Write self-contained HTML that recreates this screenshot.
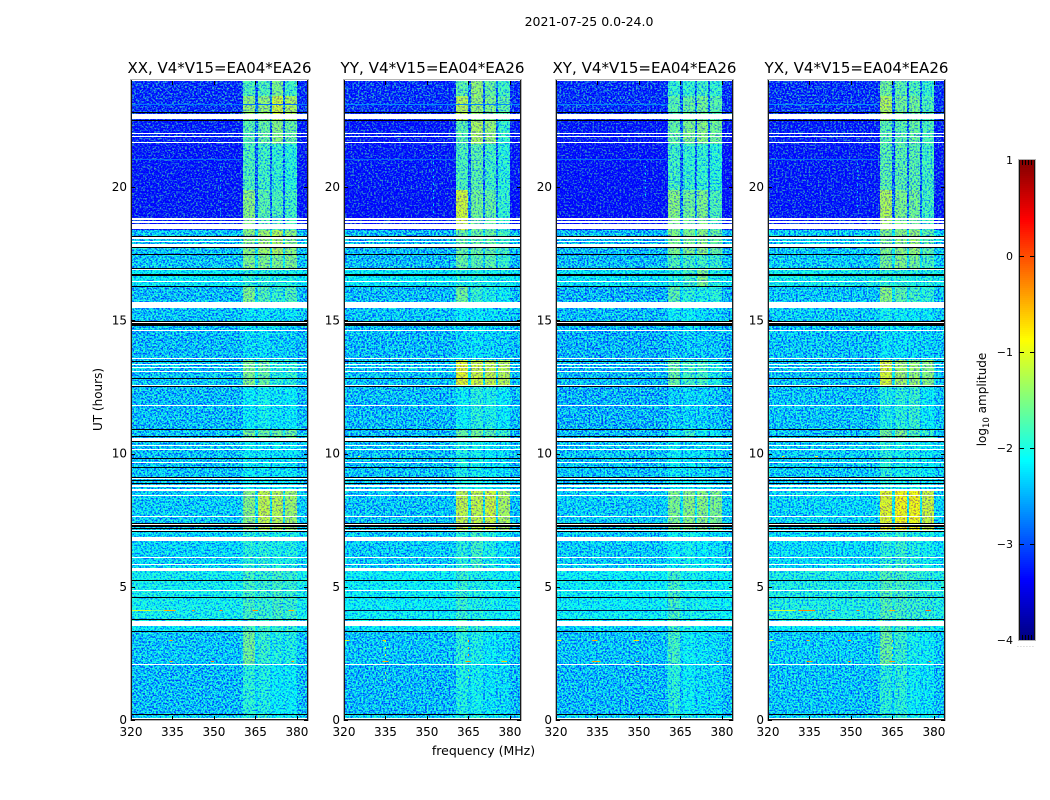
<!DOCTYPE html>
<html>
<head>
<meta charset="utf-8">
<title>2021-07-25 0.0-24.0</title>
<style>
html,body{margin:0;padding:0;background:#fff;width:1050px;height:800px;overflow:hidden}
svg{display:block}
text{font-family:"DejaVu Sans","Liberation Sans",sans-serif;fill:#000}
</style>
</head>
<body>
<svg id="chart" xmlns="http://www.w3.org/2000/svg" width="1050" height="800" viewBox="0 0 1050 800">
<defs>
<filter id="speckle0" filterUnits="userSpaceOnUse" x="0" y="0" width="1050" height="800" color-interpolation-filters="sRGB"><feTurbulence type="fractalNoise" baseFrequency="0.55 0.6" numOctaves="2" seed="7" result="noise"/><feColorMatrix in="noise" type="matrix" values="0.9 0 0 0 0.05  3 0 0 0 -1  -1 0 0 0 1  0 0 0 0 1" result="tint"/><feComposite in="SourceGraphic" in2="tint" operator="arithmetic" k1="0" k2="1" k3="1" k4="-0.5" result="mix"/><feComposite in="mix" in2="SourceGraphic" operator="in"/></filter>
<filter id="speckle1" filterUnits="userSpaceOnUse" x="0" y="0" width="1050" height="800" color-interpolation-filters="sRGB"><feTurbulence type="fractalNoise" baseFrequency="0.55 0.6" numOctaves="2" seed="19" result="noise"/><feColorMatrix in="noise" type="matrix" values="0.9 0 0 0 0.05  3 0 0 0 -1  -1 0 0 0 1  0 0 0 0 1" result="tint"/><feComposite in="SourceGraphic" in2="tint" operator="arithmetic" k1="0" k2="1" k3="1" k4="-0.5" result="mix"/><feComposite in="mix" in2="SourceGraphic" operator="in"/></filter>
<filter id="speckle2" filterUnits="userSpaceOnUse" x="0" y="0" width="1050" height="800" color-interpolation-filters="sRGB"><feTurbulence type="fractalNoise" baseFrequency="0.55 0.6" numOctaves="2" seed="31" result="noise"/><feColorMatrix in="noise" type="matrix" values="0.9 0 0 0 0.05  3 0 0 0 -1  -1 0 0 0 1  0 0 0 0 1" result="tint"/><feComposite in="SourceGraphic" in2="tint" operator="arithmetic" k1="0" k2="1" k3="1" k4="-0.5" result="mix"/><feComposite in="mix" in2="SourceGraphic" operator="in"/></filter>
<filter id="speckle3" filterUnits="userSpaceOnUse" x="0" y="0" width="1050" height="800" color-interpolation-filters="sRGB"><feTurbulence type="fractalNoise" baseFrequency="0.55 0.6" numOctaves="2" seed="43" result="noise"/><feColorMatrix in="noise" type="matrix" values="0.9 0 0 0 0.05  3 0 0 0 -1  -1 0 0 0 1  0 0 0 0 1" result="tint"/><feComposite in="SourceGraphic" in2="tint" operator="arithmetic" k1="0" k2="1" k3="1" k4="-0.5" result="mix"/><feComposite in="mix" in2="SourceGraphic" operator="in"/></filter>
</defs>
<text x="589" y="26" font-size="12.5" text-anchor="middle">2021-07-25 0.0-24.0</text>
<text x="483.5" y="755" font-size="12.5" text-anchor="middle">frequency (MHz)</text>
<text x="0" y="0" font-size="12" text-anchor="middle" transform="translate(102 399.5) rotate(-90)">UT (hours)</text>
<text x="0" y="0" font-size="12" text-anchor="middle" transform="translate(986 399.5) rotate(-90)">log<tspan font-size="8.5" dy="3">10</tspan><tspan dy="-3"> amplitude</tspan></text>
</svg>
<script>
// ---- chart data ----
const polarisations = ['XX', 'YY', 'XY', 'YX'];
const baselineLabel = ', V4*V15=EA04*EA26';
const xTicks = [320, 335, 350, 365, 380];
const yTicks = [0, 5, 10, 15, 20];
const colorbarTicks = [1, 0, -1, -2, -3, -4];
// time row edges (UT hours) from top to bottom
const timeEdges = [24, 23.4, 22.5, 21.6, 19.9, 18.4, 17.5, 16.93, 16.3, 15.46, 14.8, 13.5, 12.53, 10.9, 10.46, 8.6, 7.05, 5.6, 3.53, 3.3, 2.1, 0.23, 0];
// frequency channel edges (MHz)
const freqEdges = [320, 360.5, 364.8, 365.8, 370.2, 371, 374.9, 375.6, 379.9, 384];
// which level column each frequency channel reads: off, band1, gap, band2, gap, band3, gap, band4, off
const channelLevel = [0, 1, 5, 2, 5, 3, 5, 4, 0];
// log10 amplitude per time row: off-band, band1, band2, band3, band4, gap
const levelsXX = [
[-3.15,-1.8,-1.8,-1.6,-1.85,-2.9],[-3.15,-1.5,-1.5,-1.25,-1.4,-2.8],[-3.25,-1.75,-1.7,-1.55,-1.7,-2.9],[-3.3,-1.8,-1.85,-1.9,-1.95,-2.9],
[-3.3,-1.55,-1.75,-1.8,-1.85,-2.8],[-2.4,-1.55,-1.45,-1.4,-1.55,-2.2],[-2.4,-1.6,-1.6,-1.6,-1.6,-2.2],[-2.15,-1.95,-1.95,-2,-2,-2.1],
[-2.45,-1.6,-1.8,-1.9,-1.8,-2.3],[-2.4,-2.2,-2.2,-2.3,-2.2,-2.35],[-2.45,-2.25,-2.25,-2.35,-2.35,-2.4],[-2.4,-1.6,-1.7,-1.95,-1.95,-2.2],
[-2.45,-2.15,-2.05,-2.2,-2.15,-2.35],[-2.4,-1.65,-1.7,-1.7,-1.7,-2.2],[-2.4,-2.1,-2.2,-2.2,-2.2,-2.35],[-2.35,-1.55,-1.3,-1.35,-1.45,-2.2],
[-2.3,-1.95,-1.95,-2,-2,-2.25],[-2.05,-1.85,-1.9,-1.85,-1.9,-2.0],[-2.2,-1.8,-1.85,-1.9,-1.9,-2.1],[-2.4,-1.65,-1.9,-2,-2,-2.25],
[-2.45,-1.95,-2.0,-2.15,-2.15,-2.3],[-2.3,-2,-1.95,-2.1,-2.1,-2.2]];
const levelsYY = [
[-3.15,-1.75,-1.5,-1.7,-1.85,-2.8],[-3.15,-1.35,-1.5,-1.6,-1.75,-2.8],[-3.3,-1.75,-1.4,-1.5,-1.9,-2.9],[-3.3,-1.8,-1.75,-1.85,-1.95,-2.9],
[-3.35,-1.25,-1.65,-1.7,-1.9,-2.7],[-2.45,-1.7,-1.7,-1.7,-1.85,-2.3],[-2.45,-1.7,-1.75,-1.75,-1.9,-2.3],[-2.15,-2.0,-2.0,-2.05,-2.05,-2.1],
[-2.45,-1.65,-1.9,-2.0,-2.1,-2.3],[-2.4,-2.15,-2.2,-2.25,-2.3,-2.35],[-2.45,-2.3,-2.25,-2.3,-2.35,-2.4],[-2.4,-1.15,-1.25,-1.3,-1.35,-2.2],
[-2.45,-2.1,-1.95,-2.0,-2.15,-2.35],[-2.45,-1.7,-1.65,-1.75,-1.9,-2.3],[-2.4,-2.0,-2.05,-2.15,-2.25,-2.35],[-2.4,-1.3,-1.3,-1.25,-1.4,-2.2],
[-2.35,-1.95,-1.85,-2.0,-2.2,-2.3],[-2.1,-1.9,-2,-2.05,-2.1,-2.05],[-2.2,-1.8,-1.9,-2.0,-2.05,-2.1],[-2.4,-1.95,-2.0,-2.15,-2.25,-2.3],
[-2.45,-2.0,-2.05,-2.2,-2.25,-2.35],[-2.3,-2,-2,-2.1,-2.1,-2.2]];
const levelsXY = [
[-3.15,-1.9,-1.9,-1.85,-1.9,-2.9],[-3.15,-1.75,-1.7,-1.65,-1.75,-2.8],[-3.3,-1.7,-1.6,-1.55,-1.65,-2.85],[-3.35,-1.85,-1.9,-1.9,-1.95,-2.9],
[-3.35,-1.55,-1.65,-1.6,-1.8,-2.8],[-2.45,-1.6,-1.6,-1.55,-1.7,-2.3],[-2.45,-1.8,-1.85,-1.85,-1.9,-2.3],[-2.2,-2.0,-1.85,-1.6,-2.0,-2.1],
[-2.5,-1.75,-1.95,-2.0,-1.95,-2.3],[-2.45,-2.1,-2.1,-2.25,-2.3,-2.4],[-2.5,-2.4,-2.35,-2.35,-2.4,-2.45],[-2.45,-1.7,-1.85,-1.85,-2.0,-2.3],
[-2.5,-2.35,-2.3,-2.3,-2.4,-2.45],[-2.45,-2.1,-1.9,-2.1,-2.2,-2.35],[-2.4,-2.1,-2.25,-2.25,-2.3,-2.35],[-2.35,-1.6,-1.55,-1.55,-1.6,-2.2],
[-2.35,-2.1,-2.05,-2.15,-2.2,-2.3],[-2.1,-1.85,-2.05,-2.05,-2.1,-2.05],[-2.3,-1.85,-2.0,-2.1,-2.15,-2.2],[-2.4,-1.85,-2.1,-2.2,-2.25,-2.35],
[-2.45,-1.95,-2.1,-2.25,-2.25,-2.4],[-2.3,-2.05,-2,-2.15,-2.15,-2.25]];
const levelsYX = [
[-3.15,-1.65,-1.75,-1.8,-1.9,-2.9],[-3.15,-1.4,-1.65,-1.65,-1.8,-2.8],[-3.25,-1.75,-1.75,-1.7,-1.8,-2.9],[-3.3,-1.75,-1.75,-1.75,-1.85,-2.9],
[-3.3,-1.4,-1.6,-1.65,-1.85,-2.8],[-2.35,-1.6,-1.55,-1.5,-1.75,-2.2],[-2.35,-1.65,-1.6,-1.65,-1.85,-2.2],[-2.05,-1.95,-1.95,-2,-2,-2.05],
[-2.4,-1.55,-1.75,-1.85,-1.95,-2.2],[-2.35,-2.05,-2.1,-2.15,-2.2,-2.3],[-2.4,-2.25,-2.25,-2.3,-2.35,-2.35],[-2.4,-1.2,-1.45,-1.5,-1.55,-2.2],
[-2.4,-2.0,-1.95,-1.9,-2.15,-2.3],[-2.4,-1.65,-1.6,-1.8,-1.9,-2.25],[-2.35,-1.95,-2.05,-2.05,-2.15,-2.3],[-2.3,-1.15,-1.05,-1.05,-1.25,-2.1],
[-2.25,-1.95,-1.9,-2,-2.05,-2.25],[-2.0,-1.8,-1.85,-1.9,-1.95,-1.95],[-2.15,-1.75,-1.85,-1.95,-2.0,-2.1],[-2.35,-1.7,-1.9,-2.05,-2.1,-2.25],
[-2.4,-1.95,-1.95,-2.1,-2.2,-2.3],[-2.3,-2,-1.9,-2.05,-2.1,-2.2]];
const panelLevels = [levelsXX, levelsYY, levelsXY, levelsYX];
// flagged (blank) time ranges, UT hours
const whiteFlags = [[22.55,22.74],[21.99,22.03],[21.87,21.91],[21.65,21.69],[18.76,18.84],[18.67,18.71],[18.42,18.61],[18.07,18.11],[17.95,17.99],[17.77,17.86],[16.87,16.91],[16.42,16.47],[15.46,15.68],[14.89,14.93],[14.61,14.65],[13.53,13.57],[13.32,13.36],[13.21,13.25],[13.06,13.10],[12.55,12.59],[11.77,11.81],[10.46,10.59],[10.27,10.31],[10.14,10.18],[9.65,9.69],[9.04,9.08],[8.73,8.83],[8.60,8.67],[8.40,8.44],[7.62,7.66],[7.32,7.36],[7.10,7.14],[6.72,6.86],[6.08,6.12],[5.81,5.87],[5.58,5.71],[4.85,4.89],[3.53,3.73],[2.07,2.11],[0.04,0.08]];
// thin gaps drawn black, UT hours
const blackFlags = [[22.78,22.82],[22.49,22.53],[18.14,18.18],[17.70,17.74],[17.45,17.49],[16.91,16.95],[16.68,16.72],[16.24,16.30],[14.93,14.97],[14.80,14.89],[13.45,13.49],[12.78,12.82],[12.51,12.55],[10.89,10.93],[10.61,10.65],[10.42,10.46],[9.78,9.82],[9.46,9.50],[9.08,9.13],[8.97,9.01],[8.85,8.89],[7.36,7.40],[7.26,7.30],[7.16,7.20],[7.04,7.09],[5.21,5.25],[4.58,4.62],[3.76,3.80],[3.31,3.35],[0.19,0.23]];
// panel-specific thin gap at UT 4.12 (panel index, start, end)
const panelGaps = [[1,4.10,4.14],[2,4.10,4.14]];
// RFI streaks along frequency: panel, UT, start MHz, end MHz, log amplitude
const rfiHorizontal = [
[0,4.12,320,327,-1.1],[0,4.12,327,332,-1.6],[0,4.12,332,336,-0.5],[0,4.12,342,343,-0.4],[0,4.12,352,353,-0.3],[0,4.12,364,366,-0.3],[0,4.12,377,379,-0.5],
[0,3.0,334,335,-0.4],[0,2.2,334,335,-0.3],[0,2.2,349,350,-0.2],[0,2.2,378,379,-0.4],
[3,4.12,320,330,-1.1],[3,4.12,331,337,-0.3],[3,4.12,343,344,-0.1],[3,4.12,352,353,-0.2],[3,4.12,364,366,-0.5],[3,4.12,377,379,-0.1],
[3,3.0,320,322,-0.9],[3,3.0,334,335,-0.4],[3,3.0,349,350,-0.4],[3,2.2,334,336,-0.3],[3,2.2,349,350,-0.3],[3,2.2,364,366,-0.3],[3,2.2,378,379,-0.3],
[1,3.0,320,322,-1.0],[1,3.0,334,335,-0.6],[1,2.2,334,336,-0.5],[1,2.2,364,366,-0.3],[1,2.2,377,379,-0.6],
[2,3.0,320,322,-1.0],[2,3.0,333,335,-0.5],[2,3.0,348,350,-0.7],[2,2.2,333,336,-0.4],[2,2.2,349,350,-0.4],[2,2.2,378,379,-0.3],
[0,23.1,320,384,-2.8],[1,23.1,320,384,-2.7],[2,23.1,320,360,-2.75],[3,23.1,320,360,-2.7],
[0,21.05,320,360,-2.85],[1,21.05,320,360,-2.9],[2,21.05,320,360,-2.85],[3,21.05,320,360,-2.85],
[1,9.9,325,326,-1.0],[3,9.9,325,326,-0.7],[3,9.9,337,338,-0.9]];
// RFI streaks along time: panel, MHz, start UT, end UT, log amplitude
const rfiVertical = [
[0,352.3,18.9,20.8,-2.45],[1,352.3,19.0,21.2,-2.3],[1,339.8,23.2,24,-2.6],[1,339.8,21.0,22.3,-2.8],
[2,352.3,19.6,20.8,-2.3],[3,352.3,19.2,20.9,-2.4],[0,352.3,9.0,10.2,-2.0],
[1,335,2.4,3.0,-1.0],[1,335,1.4,1.8,-1.3],[1,364.8,2.3,3.0,-0.5],[1,364.8,1.4,1.9,-1.2],[3,364.8,2.2,3.0,-1.1]];

// ---- scales ----
const SVG_NS = 'http://www.w3.org/2000/svg';
const svg = document.getElementById('chart');
const panelLeft = [131, 344, 556, 768];
const panelWidth = 177, plotTop = 80.5, plotBottom = 720;
function xScale(p, f){ return panelLeft[p] + (f - 320) / 64 * panelWidth; }
function yScale(h){ return plotBottom - h / 24 * (plotBottom - plotTop); }
function cbarY(v){ return 160 + (1 - v) / 5 * 480; }
function clamp01(x){ return Math.max(0, Math.min(1, x)); }
function jet(v){
  const t = clamp01((v + 4) / 5);
  const r = clamp01(Math.min(4 * t - 1.5, -4 * t + 4.5));
  const g = clamp01(Math.min(4 * t - 0.5, -4 * t + 3.5));
  const b = clamp01(Math.min(4 * t + 0.5, -4 * t + 2.5));
  return 'rgb(' + Math.round(r * 255) + ',' + Math.round(g * 255) + ',' + Math.round(b * 255) + ')';
}
function make(parent, tag, attrs){
  const el = document.createElementNS(SVG_NS, tag);
  for (const k in attrs) el.setAttribute(k, attrs[k]);
  parent.appendChild(el);
  return el;
}
function band(parent, p, h0, h1, fill){
  const yA = Math.round(yScale(h1)), yB = Math.round(yScale(h0));
  return make(parent, 'rect', {x: panelLeft[p] + 1, y: yA, width: panelWidth - 1, height: Math.max(1, yB - yA), fill: fill, 'shape-rendering': 'crispEdges'});
}

// ---- panels ----
polarisations.forEach(function(pol, p){
  const left = panelLeft[p], right = left + panelWidth;
  const panel = make(svg, 'g', {});
  
  

  const heat = make(panel, 'g', {filter: 'url(#speckle' + p + ')'});
  
  
  panelLevels[p].forEach(function(row, r){
    const yA = Math.round(yScale(timeEdges[r])), yB = Math.round(yScale(timeEdges[r + 1]));
    channelLevel.forEach(function(col, c){
      const xA = Math.round(xScale(p, freqEdges[c])), xB = Math.round(xScale(p, freqEdges[c + 1]));
      const cell = make(heat, 'rect', {x: xA, y: yA, width: xB - xA, height: yB - yA, fill: jet(row[col]), 'shape-rendering': 'crispEdges'});
      
      
    });
  });

  rfiHorizontal.filter(function(d){ return d[0] === p; }).forEach(function(d){
    const xA = xScale(p, d[2]), xB = xScale(p, d[3]);
    const streak = make(panel, 'rect', {x: xA, y: Math.round(yScale(d[1])), width: xB - xA, height: 1, fill: jet(d[4]), 'shape-rendering': 'crispEdges'});
    
    
  });
  rfiVertical.filter(function(d){ return d[0] === p; }).forEach(function(d){
    const xV = Math.round(xScale(p, d[1])) + 0.5;
    const streak = make(panel, 'line', {x1: xV, x2: xV, y1: yScale(d[3]), y2: yScale(d[2]), stroke: jet(d[4]), 'stroke-width': 1, 'stroke-dasharray': '2 5'});
    
    
  });

  whiteFlags.forEach(function(f){
    const el = band(panel, p, f[0], f[1], '#fff');
    
    
  });
  blackFlags.forEach(function(f){
    const el = band(panel, p, f[0], f[1], '#000');
    
    
  });
  panelGaps.filter(function(g){ return g[0] === p; }).forEach(function(g){
    const el = band(panel, p, g[1], g[2], '#001040');
    
    
  });

  const outer = make(panel, 'rect', {x: left - 0.5, y: 79.5, width: panelWidth + 1, height: 641, fill: 'none', stroke: '#b4b4b4', 'stroke-width': 1});
  
  
  const frame = make(panel, 'path', {d: 'M' + (left + 0.5) + ' 80V720M' + (right - 0.5) + ' 80V720M' + left + ' 719.5H' + right, fill: 'none', stroke: '#1a1a1a', 'stroke-width': 1});
  
  

  xTicks.forEach(function(t){
    const x = Math.round(xScale(p, t)) + 0.5;
    const tickB = make(panel, 'line', {x1: x, x2: x, y1: 716, y2: 720, stroke: '#000', 'stroke-width': 1});
    
    
    const tickT = make(panel, 'line', {x1: x, x2: x, y1: 81, y2: 85, stroke: '#000', 'stroke-width': 1});
    
    
    const label = make(panel, 'text', {x: xScale(p, t), y: 736, 'font-size': 12, 'text-anchor': 'middle'});
    label.textContent = String(t);
    
    
  });
  yTicks.forEach(function(t){
    const y = Math.round(yScale(t)) + 0.5;
    const tickL = make(panel, 'line', {x1: left, x2: left + 4, y1: y, y2: y, stroke: '#000', 'stroke-width': 1});
    
    
    const tickR = make(panel, 'line', {x1: right - 4, x2: right, y1: y, y2: y, stroke: '#000', 'stroke-width': 1});
    
    
    const label = make(panel, 'text', {x: left - 4, y: yScale(t) + 4, 'font-size': 12, 'text-anchor': 'end'});
    label.textContent = String(t);
    
    
  });

  const title = make(panel, 'text', {x: left + panelWidth / 2, y: 73, 'font-size': 15, 'text-anchor': 'middle', textLength: 184, lengthAdjust: 'spacingAndGlyphs'});
  title.textContent = pol + baselineLabel;
  
  
});

// ---- colorbar ----
const cbar = make(svg, 'g', {});


for (let py = 160; py < 640; py += 2) {
  const value = 1 - (py + 1 - 160) / 480 * 5;
  const swatch = make(cbar, 'rect', {x: 1019, y: py, width: 16, height: 2, fill: jet(value), 'shape-rendering': 'crispEdges'});
  
  
}
const cbarOuter = make(cbar, 'rect', {x: 1018.5, y: 159.5, width: 17, height: 481, fill: 'none', stroke: '#b4b4b4', 'stroke-width': 1});


const cbarFrame = make(cbar, 'path', {d: 'M1019.5 160V640M1034.5 160V640', fill: 'none', stroke: '#111', 'stroke-width': 1});


colorbarTicks.forEach(function(v){
  const y = Math.round(cbarY(v)) + 0.5;
  if (v !== 1 && v !== -4) {
    const tick = make(cbar, 'path', {d: 'M1019 ' + y + 'H1024M1030 ' + y + 'H1035', stroke: '#000', 'stroke-width': 1, fill: 'none'});
    
    
  }
  const label = make(cbar, 'text', {x: 1013, y: cbarY(v) + 4, 'font-size': 11, 'text-anchor': 'end'});
  label.textContent = (v < 0 ? '\u2212' + Math.abs(v) : String(v));
  
  
});
[1022, 1025, 1028, 1031].forEach(function(x){
  const topTick = make(cbar, 'line', {x1: x + 0.5, x2: x + 0.5, y1: 160, y2: 165, stroke: '#000', 'stroke-width': 1});
  
  
  const bottomTick = make(cbar, 'line', {x1: x + 0.5, x2: x + 0.5, y1: 635, y2: 640, stroke: '#000', 'stroke-width': 1});
  
  
});
const cbarDots = make(cbar, 'text', {x: 1017, y: 647, 'font-size': 6, 'letter-spacing': 1.1});
cbarDots.textContent = '......';
cbarDots.style.fill = '#888';


</script>
</body>
</html>
